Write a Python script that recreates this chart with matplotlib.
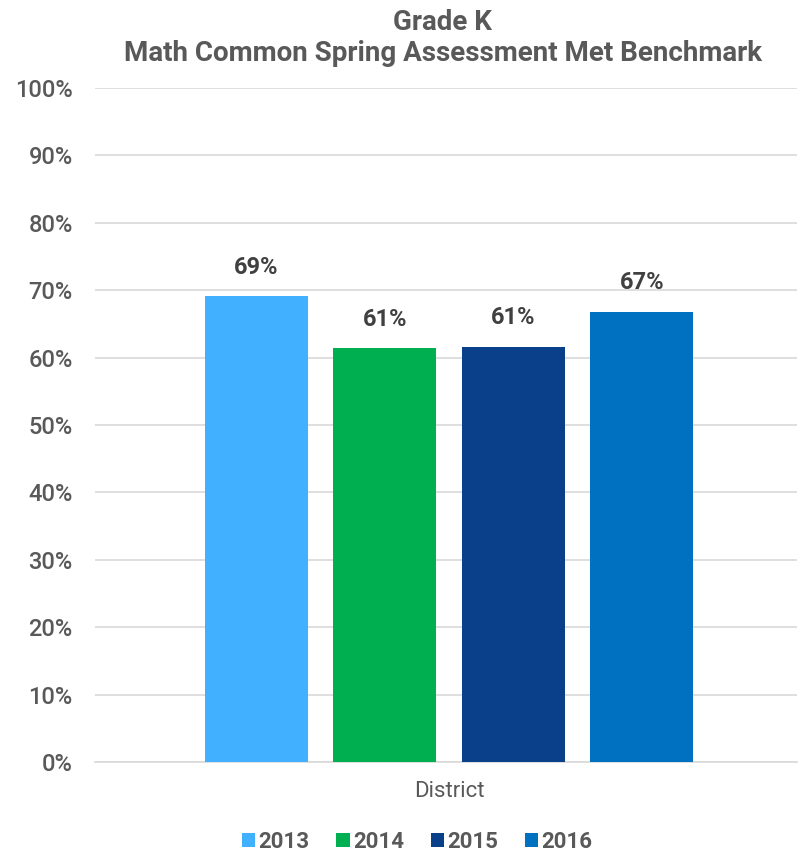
import matplotlib
matplotlib.use("Agg")
import matplotlib.pyplot as plt
from matplotlib.ticker import PercentFormatter

years = ["2013", "2014", "2015", "2016"]
values = [69.1, 61.4, 61.6, 66.8]
labels = ["69%", "61%", "61%", "67%"]
colors = ["#41B0FF", "#00B050", "#0A3F8A", "#0070C0"]
category = "District"

plt.rcParams["font.family"] = ["Roboto", "DejaVu Sans"]

fig = plt.figure(figsize=(7.98, 8.55), dpi=100)
ax = fig.add_axes([95 / 798, 1 - 762 / 855, 702 / 798, 674 / 855])

for i in range(len(years)):
    ax.bar(i, values[i], width=0.8, color=colors[i], label=years[i], zorder=3)
    ax.text(i, values[i] + 2.6, labels[i], ha="center", va="bottom",
            fontsize=17, fontweight="bold", color="#404040")

ax.set_xlim(-1.253, 4.206)
ax.set_ylim(0, 100)
ax.set_yticks(range(0, 101, 10))
ax.yaxis.set_major_formatter(PercentFormatter(decimals=0))
ax.set_xticks([1.5])
ax.set_xticklabels([category])
ax.tick_params(axis="x", length=0, pad=14, labelsize=16, labelcolor="#595959")
ax.tick_params(axis="y", length=0, pad=16, labelsize=17, labelcolor="#595959")
for t in ax.get_yticklabels():
    t.set_fontweight("medium")
ax.grid(axis="y", color="#D9D9D9", linewidth=1.2, zorder=0)
for s in ["top", "right", "left"]:
    ax.spines[s].set_visible(False)
ax.spines["bottom"].set_color("#D9D9D9")
ax.spines["bottom"].set_linewidth(1.2)

fig.text(0.555, 0.99, "Grade K\nMath Common Spring Assessment Met Benchmark",
         ha="center", va="top", fontsize=20, fontweight="bold", color="#595959",
         linespacing=1.2)

leg = fig.legend(loc="center", bbox_to_anchor=(0.523, 1 - 842 / 855), ncol=4,
                 frameon=False, fontsize=16, handlelength=0.6, handleheight=0.6,
                 handletextpad=0.15, columnspacing=1.2)
for t in leg.get_texts():
    t.set_color("#595959")
    t.set_fontweight("bold")

fig.savefig("out.png", dpi=100)
